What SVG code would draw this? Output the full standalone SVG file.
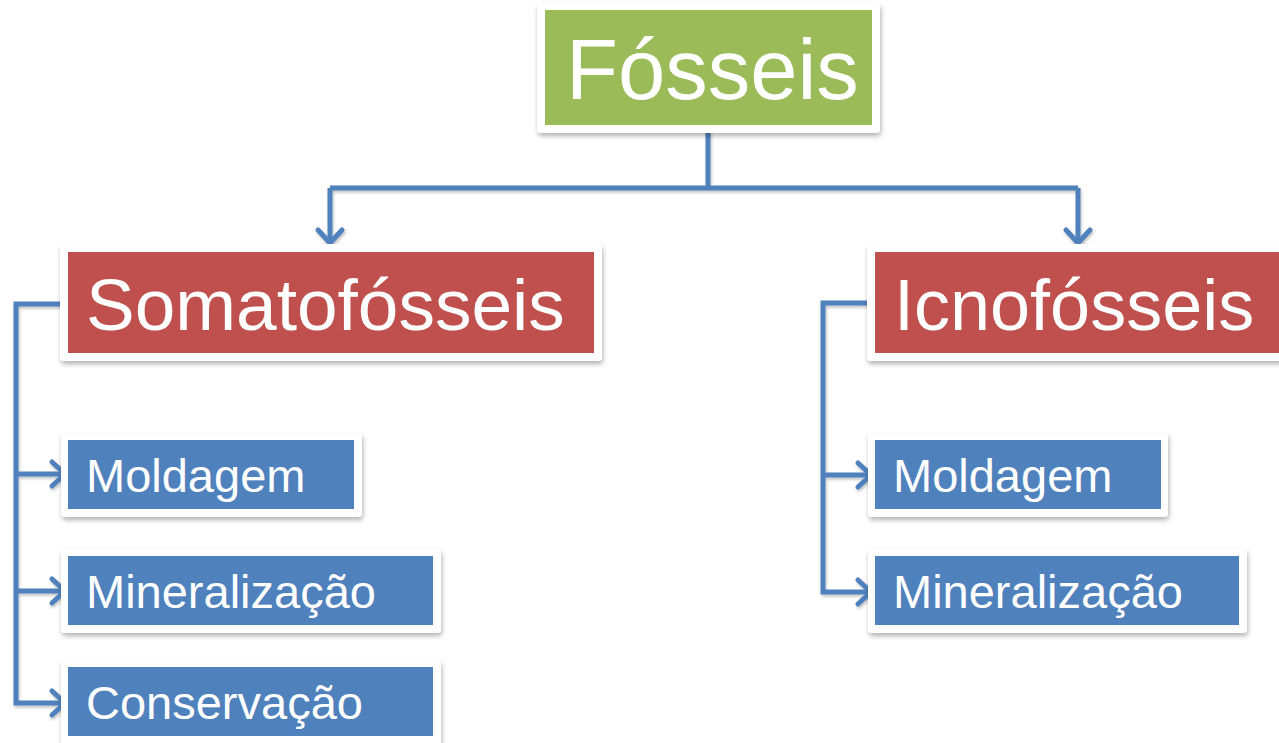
<svg xmlns="http://www.w3.org/2000/svg" width="1279" height="743" viewBox="0 0 1279 743">
<defs>
<filter id="sh" x="-10%" y="-10%" width="120%" height="130%">
<feDropShadow dx="1" dy="3" stdDeviation="2.5" flood-color="#000" flood-opacity="0.3"/>
</filter>
<filter id="lsh" x="-10%" y="-10%" width="120%" height="130%">
<feDropShadow dx="1" dy="2" stdDeviation="1.5" flood-color="#000" flood-opacity="0.25"/>
</filter>
<marker id="arr" markerUnits="userSpaceOnUse" markerWidth="34" markerHeight="34" viewBox="0 0 34 34" refX="19" refY="17" orient="auto">
<path d="M6,5 L19,17 L6,29" fill="none" stroke="#4f81bd" stroke-width="5" stroke-linecap="round" stroke-linejoin="round"/>
</marker>
<style>
.frame{fill:#ffffff;filter:url(#sh)}
.green{fill:#9bbb59}
.red{fill:#c0504d}
.blue{fill:#4f81bd}
.t{fill:#ffffff;font-family:"Liberation Sans",Arial,sans-serif}
.c{fill:none;stroke:#4f81bd;stroke-width:5;stroke-linejoin:miter}
</style>
</defs>
<g id="connectors" filter="url(#lsh)">
<path class="c" d="M708,129 V188"/>
<path class="c" d="M330,188 H1078"/>
<path class="c" d="M330,188 V243" marker-end="url(#arr)"/>
<path class="c" d="M1078,188 V243" marker-end="url(#arr)"/>
<path class="c" d="M62,304 H16 V703 H65" marker-end="url(#arr)"/>
<path class="c" d="M16,474 H65" marker-end="url(#arr)"/>
<path class="c" d="M16,591 H65" marker-end="url(#arr)"/>
<path class="c" d="M869,303 H823 V592 H871" marker-end="url(#arr)"/>
<path class="c" d="M823,475 H871" marker-end="url(#arr)"/>
</g>
<g id="fosseis">
<rect class="frame" x="537" y="3" width="343" height="130" rx="4"/>
<rect class="green" x="545" y="10" width="327" height="115"/>
<text class="t" x="566" y="99" font-size="85">Fósseis</text>
</g>
<g id="somatofosseis">
<rect class="frame" x="60" y="244" width="542" height="117" rx="4"/>
<rect class="red" x="68" y="252" width="526" height="101"/>
<text class="t" x="86" y="330" font-size="73">Somatofósseis</text>
</g>
<g id="icnofosseis">
<rect class="frame" x="867" y="244" width="430" height="117" rx="4"/>
<rect class="red" x="875" y="252" width="420" height="101"/>
<text class="t" x="894" y="330" font-size="72">Icnofósseis</text>
</g>
<g id="s-moldagem">
<rect class="frame" x="61" y="433" width="301" height="84" rx="4"/>
<rect class="blue" x="68" y="440" width="286" height="69"/>
<text class="t" x="86" y="492" font-size="47">Moldagem</text>
</g>
<g id="s-mineralizacao">
<rect class="frame" x="61" y="549" width="380" height="84" rx="4"/>
<rect class="blue" x="68" y="556" width="365" height="69"/>
<text class="t" x="86" y="608" font-size="47">Mineralização</text>
</g>
<g id="s-conservacao">
<rect class="frame" x="61" y="660" width="380" height="90" rx="4"/>
<rect class="blue" x="68" y="667" width="365" height="69"/>
<text class="t" x="86" y="719" font-size="47">Conservação</text>
</g>
<g id="i-moldagem">
<rect class="frame" x="868" y="433" width="300" height="84" rx="4"/>
<rect class="blue" x="875" y="440" width="286" height="69"/>
<text class="t" x="893" y="492" font-size="47">Moldagem</text>
</g>
<g id="i-mineralizacao">
<rect class="frame" x="868" y="549" width="379" height="84" rx="4"/>
<rect class="blue" x="875" y="556" width="364" height="69"/>
<text class="t" x="893" y="608" font-size="47">Mineralização</text>
</g>
</svg>
